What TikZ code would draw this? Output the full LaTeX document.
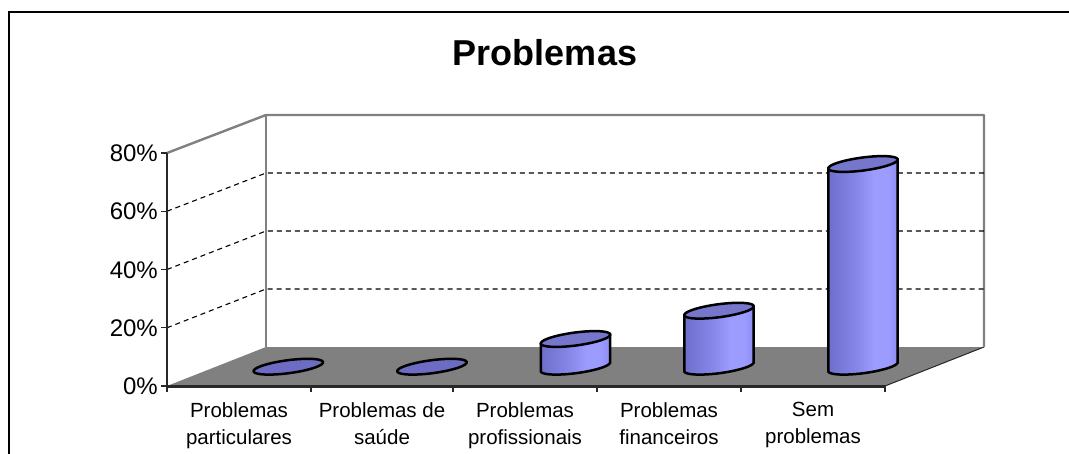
\documentclass[tikz,border=0pt]{standalone}
\usepackage{fontspec}
\setmainfont{Liberation Sans}
\definecolor{floorc}{RGB}{128,128,128}
\definecolor{wallc}{RGB}{128,128,128}
\definecolor{axisc}{RGB}{40,40,40}
\definecolor{topc}{RGB}{118,118,204}
\definecolor{flatc}{RGB}{108,108,196}
\definecolor{cA}{RGB}{110,110,204}
\definecolor{cB}{RGB}{134,134,232}
\definecolor{cC}{RGB}{156,156,255}
\definecolor{cD}{RGB}{140,140,242}
\pgfdeclarehorizontalshading{cylshade}{100bp}{color(0bp)=(cA); color(25bp)=(cA); color(45bp)=(cB); color(58bp)=(cC); color(68bp)=(cC); color(75bp)=(cD); color(100bp)=(cD)}
\tikzset{
  wall/.style={draw=wallc, line width=2.4},
  grid/.style={draw=black, line width=1.1, dash pattern=on 5 off 4},
  cylline/.style={draw=black, line width=2.5, line join=round},
  ylab/.style={anchor=base east, inner sep=0, font=\fontsize{24}{28}\selectfont},
  xlab/.style={anchor=north, inner sep=0, align=center, font=\fontsize{20.5}{27.3}\selectfont},
}
\newcommand\drawcyl[2]{%
  \shadedraw[shading=cylshade, cylline]
    ({#1-34.71},{366.7+4.41}) -- ({#1-34.71},{#2+4.41}) -- ({#1+34.71},{#2-4.41}) -- ({#1+34.71},{366.7-4.41})
    -- plot[domain=1.4:181.4, samples=40, variable=\t] ({#1+34.70*cos(\t)+0.8484*sin(\t)},{366.7-4.5686*cos(\t)+6.4444*sin(\t)}) -- cycle;
  \draw[cylline, fill=topc] plot[domain=0:360, samples=73, variable=\t] ({#1+34.70*cos(\t)+0.8484*sin(\t)},{#2-4.5686*cos(\t)+6.4444*sin(\t)}) -- cycle;
}
\newcommand\drawflat[1]{%
  \draw[cylline, fill=flatc] plot[domain=0:360, samples=73, variable=\t] ({#1+34.70*cos(\t)+0.8484*sin(\t)},{366.7-4.5686*cos(\t)+6.4444*sin(\t)}) -- cycle;
}
\begin{document}
\begin{tikzpicture}[x=1pt, y=-1pt]
\useasboundingbox[fill=white] (0,0) rectangle (1069,453);
% outer frame
\draw[line width=1.6] (9,460) -- (9,12) -- (1075,12);
% title
\node[anchor=base, inner sep=0, font=\bfseries\fontsize{36}{40}\selectfont] (title) at (545,65) {Problemas};
% floor
\fill[floorc] (167,386) -- (885,386) -- (984,347) -- (266,347) -- cycle;
\draw[axisc, line width=1] (885,386) -- (984,347);
% walls
\draw[wall, line join=round] (167,153) -- (266,115) -- (984,115) -- (984,347);
\draw[wall] (266,115) -- (266,347);
% gridlines
\foreach \fy/\by in {327.75/289, 269.5/231, 211.25/173}{
  \draw[grid] (167,\fy) -- (266,\by) -- (984,\by);
}
% bars
\drawflat{288.3}
\drawflat{432}
\drawcyl{575.5}{339}
\drawcyl{719}{310.7}
\drawcyl{863}{164}
% axes
\draw[axisc, line width=2] (167,153) -- (167,386);
\draw[axisc, line width=3] (167,386) -- (885,386);
\foreach \fy in {153,211.25,269.5,327.75,386}{
  \draw[axisc, line width=1.2] (161,\fy) -- (167,\fy);
}
\foreach \tx in {167,311,453,597,741,885}{
  \draw[axisc, line width=1.2] (\tx,386) -- (\tx,392);
}
% y labels
\node[ylab] (y80) at (158,161.7) {80\%};
\node[ylab] (y60) at (158,219.9) {60\%};
\node[ylab] (y40) at (158,278.2) {40\%};
\node[ylab] (y20) at (158,336.4) {20\%};
\node[ylab] (y0) at (158,394.7) {0\%};
% category labels
\node[xlab] (c1) at (239,402) {Problemas\\particulares};
\node[xlab] (c2) at (382,402) {Problemas de\\saúde};
\node[xlab] (c3) at (525,402) {Problemas\\profissionais};
\node[xlab] (c4) at (669,402) {Problemas\\financeiros};
\node[xlab] (c5) at (813,402) {Sem\\problemas};
\end{tikzpicture}
\end{document}
